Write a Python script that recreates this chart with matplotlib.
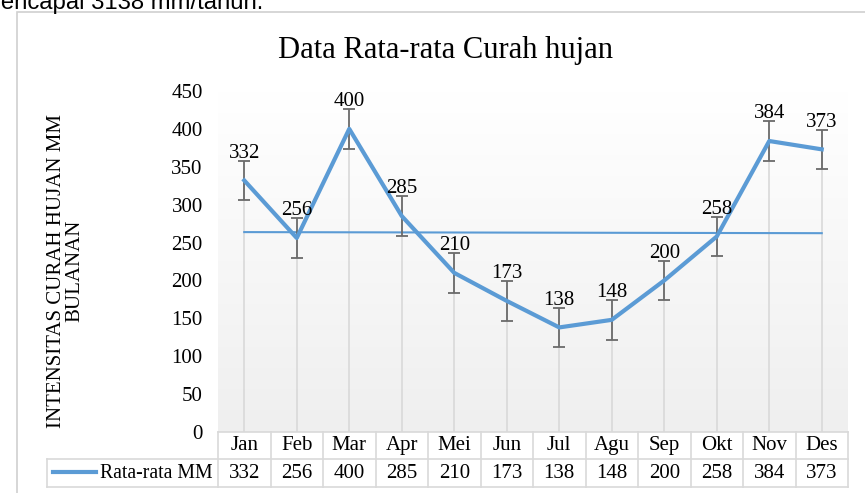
import numpy as np
import matplotlib.pyplot as plt
from matplotlib.colors import LinearSegmentedColormap
from matplotlib.patches import Rectangle

plt.rcParams['font.family'] = ['Liberation Serif', 'DejaVu Serif']

# data
bulan = ['Jan', 'Feb', 'Mar', 'Apr', 'Mei', 'Jun', 'Jul', 'Agu', 'Sep', 'Okt', 'Nov', 'Des']
curah_hujan = [332, 256, 400, 285, 210, 173, 138, 148, 200, 258, 384, 373]
galat = 26
yticks = [0, 50, 100, 150, 200, 250, 300, 350, 400, 450]

W, H = 865, 493
fig = plt.figure(figsize=(W / 100, H / 100), dpi=100)
biru = '#5b9bd5'
abu = '#d9d9d9'
fs = 15

# outer frame and cut-off text from the document
fig.patches.append(Rectangle((17 / W, -0.1), 1.1, 1 - 12 / H + 0.1, transform=fig.transFigure,
                             fill=False, edgecolor='#d0d0d0', linewidth=1.2))
fig.text(-19 / W, 1 - 9 / H, 'mencapai 3138 mm/tahun.', family='Liberation Sans',
         fontsize=17.2, va='baseline', ha='left')

ax = fig.add_axes([218 / W, (H - 432) / H, 630 / W, 341 / H])
x = np.arange(len(bulan))
y = np.array(curah_hujan)

# gradient background
grad = np.linspace(0, 1, 256).reshape(-1, 1)
cmap = LinearSegmentedColormap.from_list('g', ['#ffffff', '#efefef'])
ax.imshow(grad, cmap=cmap, aspect='auto', extent=[-0.5, len(bulan) - 0.5, 0, 450],
          origin='upper', zorder=0)

ax.vlines(x, 0, y, color=abu, linewidth=1.2, zorder=1)

# linear trend line
k, b = np.polyfit(x, y, 1)
ax.plot(x, k * x + b, color=biru, linewidth=1.5, zorder=2)

ax.errorbar(x, y, yerr=galat, fmt='none', ecolor='#6a6a6a', elinewidth=1.3,
            capsize=4, capthick=1.3, zorder=3)
ax.plot(x, y, color=biru, linewidth=3, zorder=4, solid_joinstyle='round')

for xi, yi in zip(x, y):
    ax.annotate(str(yi), (xi, yi), xytext=(0, 19.5), textcoords='offset points',
                ha='center', va='center', fontsize=fs, zorder=5)

ax.set_xlim(-0.5, len(bulan) - 0.5)
ax.set_ylim(0, 450)
ax.set_yticks(yticks)
ax.set_xticks([])
ax.tick_params(axis='y', length=0, labelsize=fs, pad=11)
for s in ax.spines.values():
    s.set_visible(False)

fig.text(66 / W, 1 - 271 / H, 'INTENSITAS CURAH HUJAN MM\nBULANAN', rotation=90,
         ha='center', va='center', multialignment='center', fontsize=15, linespacing=0.95)
fig.text(445 / W, 1 - 58 / H, 'Data Rata-rata Curah hujan', ha='center', va='baseline',
         fontsize=22)

# data table below the axis
tr = fig.transFigure
def px(xp, yp):
    return xp / W, 1 - yp / H

r0, r1, r2 = 432, 459, 487
x0, xl = 218, 47
cw = 630 / len(bulan)
kw = dict(transform=tr, color=abu, linewidth=1.2, clip_on=False)
for yy, xs in [(r0, x0), (r1, xl), (r2, xl)]:
    fig.add_artist(plt.Line2D([xs / W, 848 / W], [1 - yy / H, 1 - yy / H], **kw))
for i in range(len(bulan) + 1):
    xp = x0 + i * cw
    fig.add_artist(plt.Line2D([xp / W, xp / W], [1 - r0 / H, 1 - r2 / H], **kw))
fig.add_artist(plt.Line2D([xl / W, xl / W], [1 - r1 / H, 1 - r2 / H], **kw))

for i, (bl, v) in enumerate(zip(bulan, curah_hujan)):
    xc = x0 + (i + 0.5) * cw
    fig.text(*px(xc, (r0 + r1) / 2), bl, ha='center', va='center', fontsize=fs)
    fig.text(*px(xc, (r1 + r2) / 2), str(v), ha='center', va='center', fontsize=fs)

fig.add_artist(plt.Line2D([53 / W, 96 / W], [1 - 472 / H, 1 - 472 / H], transform=tr,
                          color=biru, linewidth=3))
fig.text(*px(213, (r1 + r2) / 2), 'Rata-rata MM', ha='right', va='center', fontsize=14.2)

fig.savefig('out.png', dpi=100)
